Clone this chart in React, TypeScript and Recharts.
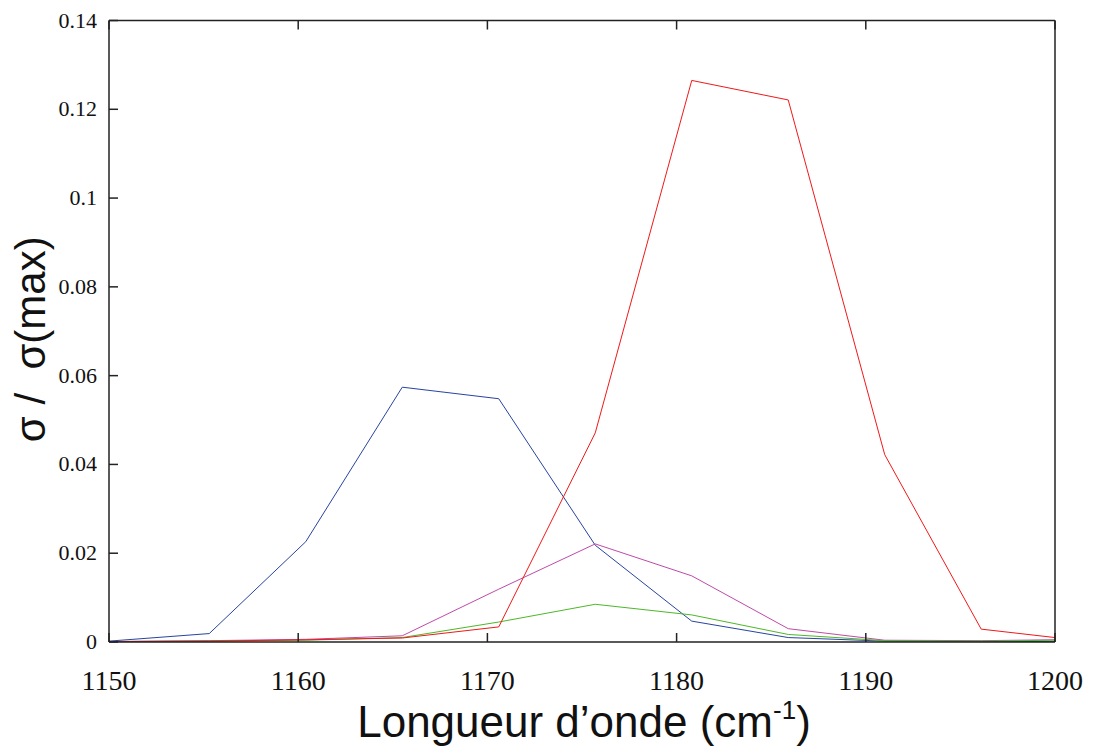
import { LineChart, Line, XAxis, YAxis } from 'recharts';

// wavenumber (cm-1)
const waveNumbers = [1150, 1155.3, 1160.4, 1165.5, 1170.6, 1175.7, 1180.8, 1185.9, 1191.0, 1196.1, 1200];

// sigma / sigma(max), one array per curve
const blueSeries = [0.0002, 0.0019, 0.0226, 0.0574, 0.0548, 0.0218, 0.0047, 0.001, 0.0002, 0.0001, 0.0001];
const pinkSeries = [0.0001, 0.0003, 0.0006, 0.0014, 0.0119, 0.0221, 0.0149, 0.003, 0.0004, 0.0003, 0.0005];
const greenSeries = [0.0001, 0.0002, 0.0004, 0.001, 0.0045, 0.0085, 0.0061, 0.0017, 0.0003, 0.0002, 0.0004];
const redSeries = [0.0001, 0.0002, 0.0005, 0.0009, 0.0034, 0.0471, 0.1265, 0.1221, 0.0422, 0.0029, 0.001];

const xTicks = [1150, 1160, 1170, 1180, 1190, 1200];
const yTicks = [0, 0.02, 0.04, 0.06, 0.08, 0.1, 0.12, 0.14];

const FRAME = '#222';
const TICK_LEN = 9;
const SERIF = 'Liberation Serif, Times New Roman, serif';
const SANS = 'Liberation Sans, Arial, sans-serif';

const chartData = waveNumbers.map((x, i) => ({
  x,
  blue: blueSeries[i],
  pink: pinkSeries[i],
  green: greenSeries[i],
  red: redSeries[i],
}));

// gnuplot-like ticks pointing into the plot; x/y are the axis line coords (tickSize 0, margin 0)
const BottomTick = ({ x, y, payload }: any) => (
  <g>
    <line x1={x} y1={y} x2={x} y2={y - TICK_LEN} stroke={FRAME} strokeWidth={1.5} />
    <text x={x} y={y + 48} textAnchor="middle" fontFamily={SERIF} fontSize={28} fill="#111">
      {payload.value}
    </text>
  </g>
);

const TopTick = ({ x, y }: any) => (
  <line x1={x} y1={y} x2={x} y2={y + TICK_LEN} stroke={FRAME} strokeWidth={1.5} />
);

const LeftTick = ({ x, y, payload }: any) => (
  <g>
    <line x1={x} y1={y} x2={x + TICK_LEN} y2={y} stroke={FRAME} strokeWidth={1.5} />
    <text x={x - 12} y={y + 7} textAnchor="end" fontFamily={SERIF} fontSize={22} fill="#111">
      {String(payload.value)}
    </text>
  </g>
);

const RightTick = ({ x, y }: any) => (
  <line x1={x} y1={y} x2={x - TICK_LEN} y2={y} stroke={FRAME} strokeWidth={1.5} />
);

const XTitle = ({ viewBox }: any) => {
  const cx = viewBox.x + viewBox.width / 2;
  return (
    <text x={cx + 2} y={737} textAnchor="middle" fontFamily={SANS} fontSize={44} fill="#111">
      Longueur d’onde (cm
      <tspan fontSize={26} dy={-18}>-1</tspan>
      <tspan dy={18}>)</tspan>
    </text>
  );
};

const YTitle = ({ viewBox }: any) => {
  const cy = viewBox.y + viewBox.height / 2 + 8;
  return (
    <text
      x={45}
      y={cy}
      transform={`rotate(-90, 45, ${cy})`}
      textAnchor="middle"
      fontFamily={SANS}
      fontSize={42}
      fill="#111"
      style={{ whiteSpace: 'pre' }}
    >
      {'σ /  σ(max)'}
    </text>
  );
};

export default function App() {
  return (
    <div style={{ width: 1096, height: 751, background: '#fff' }}>
      <style>{'body{margin:0}'}</style>
      <LineChart
        width={1096}
        height={751}
        data={chartData}
        margin={{ top: 19.5, right: 40, bottom: 0, left: 0 }}
      >
        <XAxis
          xAxisId="bottom"
          dataKey="x"
          type="number"
          domain={[1150, 1200]}
          ticks={xTicks}
          height={109}
          tickSize={0}
          tickMargin={0}
          tickLine={false}
          stroke={FRAME}
          strokeWidth={1.5}
          tick={<BottomTick />}
          label={<XTitle />}
        />
        <XAxis
          xAxisId="top"
          orientation="top"
          dataKey="x"
          type="number"
          domain={[1150, 1200]}
          ticks={xTicks}
          height={1}
          tickSize={0}
          tickMargin={0}
          tickLine={false}
          stroke={FRAME}
          strokeWidth={1.5}
          tick={<TopTick />}
        />
        <YAxis
          yAxisId="left"
          type="number"
          domain={[0, 0.14]}
          ticks={yTicks}
          width={109}
          tickSize={0}
          tickMargin={0}
          tickLine={false}
          stroke={FRAME}
          strokeWidth={1.5}
          tick={<LeftTick />}
          label={<YTitle />}
        />
        <YAxis
          yAxisId="right"
          orientation="right"
          type="number"
          domain={[0, 0.14]}
          ticks={yTicks}
          width={1}
          tickSize={0}
          tickMargin={0}
          tickLine={false}
          stroke={FRAME}
          strokeWidth={1.5}
          tick={<RightTick />}
        />
        <Line xAxisId="bottom" yAxisId="left" type="linear" dataKey="blue" stroke="#2844a0" strokeWidth={1} dot={false} isAnimationActive={false} />
        <Line xAxisId="bottom" yAxisId="left" type="linear" dataKey="pink" stroke="#c04aa8" strokeWidth={1} dot={false} isAnimationActive={false} />
        <Line xAxisId="bottom" yAxisId="left" type="linear" dataKey="green" stroke="#4cb828" strokeWidth={1} dot={false} isAnimationActive={false} />
        <Line xAxisId="bottom" yAxisId="left" type="linear" dataKey="red" stroke="#f01818" strokeWidth={1} dot={false} isAnimationActive={false} />
      </LineChart>
    </div>
  );
}
